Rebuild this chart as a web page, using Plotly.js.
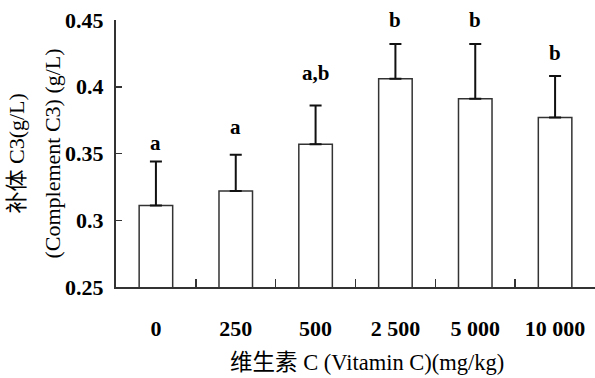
<!DOCTYPE html>
<html>
<head>
<meta charset="utf-8">
<script src="https://cdn.plot.ly/plotly-3.0.1.min.js"></script>
<style>html,body{margin:0;padding:0;background:#fff;}#chart{width:595px;height:378px;}</style>
</head>
<body>
<div id="chart"></div>
<script>
// Data
const categories = ['0', '250', '500', '2 500', '5 000', '10 000'];
const means = [0.311, 0.322, 0.357, 0.406, 0.391, 0.377];
const sdUp = [0.033, 0.027, 0.029, 0.026, 0.041, 0.031];
const letters = ['a', 'a', 'a,b', 'b', 'b', 'b'];
const letterY = [0.358, 0.370, 0.410, 0.450, 0.450, 0.425];
const yTicks = [0.25, 0.3, 0.35, 0.4, 0.45];
const yTickText = ['0.25', '0.3', '0.35', '0.4', '0.45'];
const yTitle1 = '补体 C3(g/L)';
const yTitle2 = '(Complement C3) (g/L)';
const xTitle = '维生素 C (Vitamin C)(mg/kg)';

const FONT = '"Liberation Serif", "Times New Roman", "Noto Sans CJK SC", serif';

const trace = {
  type: 'bar',
  x: categories,
  y: means,
  width: 0.42,
  marker: {color: '#ffffff', line: {color: '#333333', width: 1.5}},
  error_y: {type: 'data', symmetric: false, array: sdUp, arrayminus: sdUp.map(() => 0),
            color: '#111111', thickness: 2, width: 6},
  hoverinfo: 'none'
};

const annotations = letters.map((t, i) => ({
  x: i, y: letterY[i], xref: 'x', yref: 'y', text: t, showarrow: false,
  font: {family: FONT, size: 21, color: '#000', weight: 'bold'}, xanchor: 'center', yanchor: 'middle'
}));
annotations.push({
  xref: 'paper', yref: 'paper', x: -0.2067, y: 0.5, text: yTitle1, textangle: -90, showarrow: false,
  font: {family: FONT, size: 22, color: '#000'}, xanchor: 'center', yanchor: 'middle'
});
annotations.push({
  xref: 'paper', yref: 'paper', x: -0.1335, y: 0.5, text: yTitle2, textangle: -90, showarrow: false,
  font: {family: FONT, size: 22, color: '#000'}, xanchor: 'center', yanchor: 'middle'
});
annotations.push({
  xref: 'paper', yref: 'paper', x: 0.524, y: -0.284, text: xTitle, showarrow: false,
  font: {family: FONT, size: 22.5, color: '#000'}, xanchor: 'center', yanchor: 'middle'
});

const layout = {
  width: 595, height: 378,
  margin: {l: 116, r: 0, t: 20, b: 91, pad: 0},
  paper_bgcolor: '#fff', plot_bgcolor: '#fff',
  showlegend: false,
  font: {family: FONT, color: '#000'},
  xaxis: {
    type: 'category', range: [-0.5, 5.5], tickson: 'boundaries', ticks: 'inside', ticklen: 8,
    tickwidth: 1.5, tickcolor: '#333', showline: true, linecolor: '#333', linewidth: 2,
    showgrid: false, zeroline: false, ticklabelstandoff: 21,
    tickfont: {family: FONT, size: 22, color: '#000', weight: 'bold'}
  },
  yaxis: {
    range: [0.25, 0.45], tickvals: yTicks, ticktext: yTickText, ticks: 'inside', ticklen: 6,
    tickwidth: 1.5, tickcolor: '#333', showline: true, linecolor: '#333', linewidth: 2,
    showgrid: false, zeroline: false, ticklabelstandoff: 6,
    tickfont: {family: FONT, size: 22, color: '#000', weight: 'bold'}
  },
  annotations: annotations
};

Plotly.newPlot('chart', [trace], layout, {staticPlot: true, displayModeBar: false});
</script>
</body>
</html>
